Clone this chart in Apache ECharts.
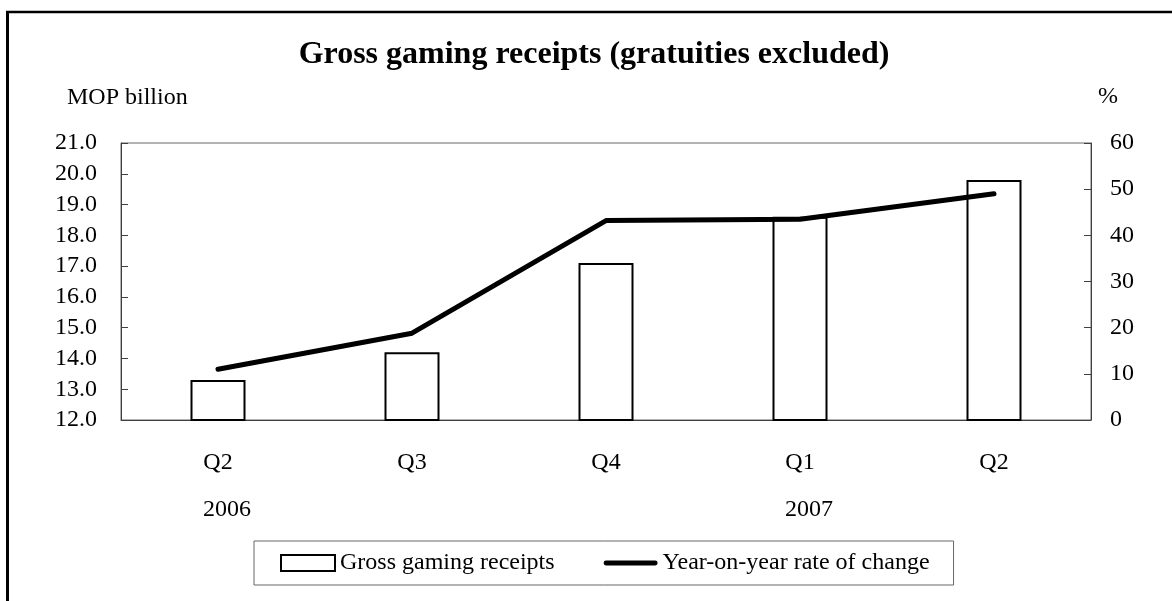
<!DOCTYPE html>
<html>
<head>
<meta charset="utf-8">
<style>
  html, body { margin: 0; padding: 0; background: #fff; }
  #chart { width: 1172px; height: 601px; }
</style>
<script src="https://cdn.jsdelivr.net/npm/echarts@6/dist/echarts.min.js"></script>
</head>
<body>
<div id="chart"></div>
<script>
// Quarterly gross gaming receipts and their year-on-year change
const quarters = ['Q2', 'Q3', 'Q4', 'Q1', 'Q2'];
const years = ['2006', '', '', '2007', ''];
const receipts = [13.3, 14.2, 17.1, 18.6, 19.8];      // MOP billion
const yoyChange = [11.0, 18.8, 43.2, 43.5, 49.0];     // %

const FONT = '"Liberation Serif", "Times New Roman", serif';
const AXIS_COLOR = '#404040';

const chart = echarts.init(document.getElementById('chart'), null, { renderer: 'canvas' });

chart.setOption({
  backgroundColor: '#fff',
  animation: false,
  title: {
    text: 'Gross gaming receipts (gratuities excluded)',
    left: 594,
    textAlign: 'center',
    top: 39,
    padding: 0,
    textStyle: { fontFamily: FONT, fontSize: 32, fontWeight: 'bold', color: '#000' }
  },
  grid: {
    left: 121, right: 81, top: 143, bottom: 181,
    show: true, borderColor: '#666', borderWidth: 1, backgroundColor: 'transparent'
  },
  legend: {
    left: 254, top: 541,
    padding: [10, 24, 10, 26],
    itemGap: 49,
    itemWidth: 54, itemHeight: 16,
    borderColor: '#666', borderWidth: 1,
    symbolKeepAspect: true,
    textStyle: { fontFamily: FONT, fontSize: 24, color: '#000' },
    data: [
      { name: 'Gross gaming receipts', icon: 'rect',
        itemStyle: { color: '#fff', borderColor: '#000', borderWidth: 2 } },
      // thick bar-shaped key for the line series
      { name: 'Year-on-year rate of change',
        icon: 'path://M2.5,0L53.5,0A2.5,2.5,0,0,1,53.5,5L2.5,5A2.5,2.5,0,0,1,2.5,0Z',
        itemStyle: { color: '#000', borderWidth: 0 } }
    ]
  },
  xAxis: [
    {
      type: 'category',
      data: quarters,
      position: 'bottom',
      axisLine: { show: true, lineStyle: { color: AXIS_COLOR, width: 1 } },
      axisTick: { show: false },
      axisLabel: { margin: 31, fontFamily: FONT, fontSize: 24, color: '#000' }
    },
    {
      type: 'category',
      data: years,
      position: 'bottom',
      axisLine: { show: false },
      axisTick: { show: false },
      axisLabel: {
        margin: 78, fontFamily: FONT, fontSize: 24, color: '#000',
        align: 'center', padding: [0, 0, 0, 18], interval: 0
      }
    }
  ],
  yAxis: [
    {
      type: 'value',
      min: 12, max: 21, interval: 1,
      axisLine: { show: true, lineStyle: { color: AXIS_COLOR, width: 1 } },
      axisTick: { show: true, inside: true, length: 7, lineStyle: { color: AXIS_COLOR } },
      splitLine: { show: false },
      axisLabel: {
        margin: 24, fontFamily: FONT, fontSize: 24, color: '#000',
        formatter: v => v.toFixed(1)
      }
    },
    {
      type: 'value',
      min: 0, max: 60, interval: 10,
      position: 'right',
      axisLine: { show: true, lineStyle: { color: AXIS_COLOR, width: 1 } },
      axisTick: { show: true, inside: true, length: 7, lineStyle: { color: AXIS_COLOR } },
      splitLine: { show: false },
      axisLabel: { margin: 19, fontFamily: FONT, fontSize: 24, color: '#000' }
    }
  ],
  series: [
    {
      name: 'Gross gaming receipts',
      type: 'bar',
      data: receipts,
      xAxisIndex: 0, yAxisIndex: 0,
      barWidth: 55,
      itemStyle: { color: '#fff', borderColor: '#000', borderWidth: 2 },
      z: 2
    },
    {
      name: 'Year-on-year rate of change',
      type: 'line',
      data: yoyChange,
      xAxisIndex: 0, yAxisIndex: 1,
      symbol: 'none',
      lineStyle: { color: '#000', width: 5, cap: 'round', join: 'round' },
      itemStyle: { color: '#000' },
      z: 3
    }
  ],
  graphic: [
    // outer frame, left and top edges
    { type: 'line', shape: { x1: 7.5, y1: 11, x2: 7.5, y2: 601 }, style: { stroke: '#000', lineWidth: 3 }, silent: true },
    { type: 'line', shape: { x1: 6, y1: 12, x2: 1172, y2: 12 }, style: { stroke: '#000', lineWidth: 2.5 }, silent: true },
    { type: 'text', left: 67, top: 86,
      style: { text: 'MOP billion', font: '24px ' + FONT, fill: '#000' } },
    { type: 'text', left: 1098, top: 85,
      style: { text: '%', font: '24px ' + FONT, fill: '#000' } }
  ]
});
</script>
</body>
</html>
